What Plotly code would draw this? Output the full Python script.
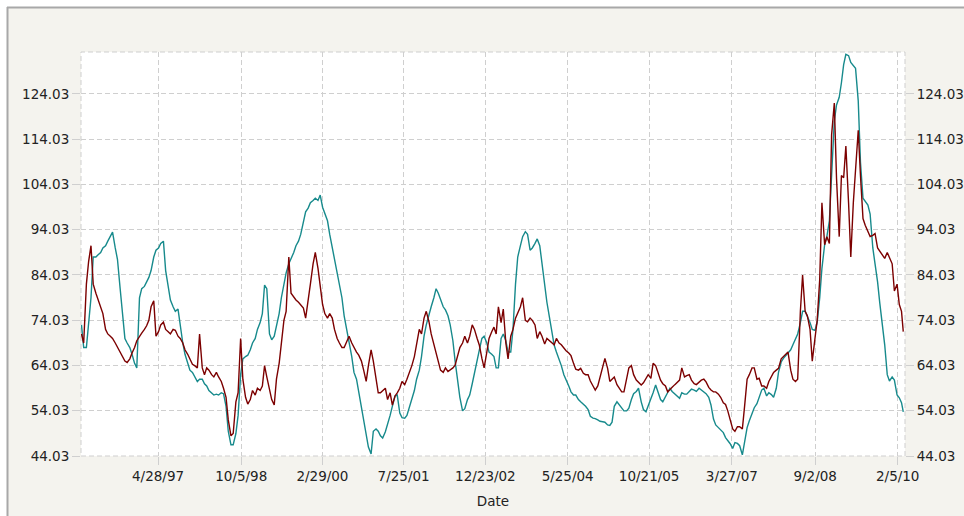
import pandas as pd
import plotly.graph_objects as go

# ---------------- data (semi-monthly readings) ----------------
dates = list(pd.date_range("1996-01-01", "2010-03-01", freq="SMS")) + [pd.Timestamp("2010-03-12")]

teal_values = [
    73, 68, 68, 73, 79, 88, 88, 88.5, 89, 90, 90.5, 91.5, 92.5, 93.5, 90, 87.5, 81, 75, 70, 69, 68, 66.5, 64.5, 63.5,  # 1996
    79, 81, 81.5, 82.5, 83.5, 85, 88, 89.5, 90, 91, 91.5, 85, 81, 78.5, 77, 76, 76.5, 72.5, 69, 66.5, 64.5, 63, 62.5, 61.5,  # 1997
    60.5, 61, 61, 60, 59.5, 58.5, 58, 57.5, 57.7, 57.5, 58, 57.8, 55, 49.5, 46.5, 46.5, 49, 53, 62, 65.5, 66, 66.3, 67.5, 69,  # 1998
    70, 72, 73.5, 75.5, 81.8, 81, 71, 69.7, 70.5, 72.5, 75.5, 79, 82, 84.5, 86.5, 87.5, 89, 90.5, 91.5, 93, 96, 98, 98.8, 100,  # 1999
    100.5, 101, 100.5, 101.7, 99, 97.5, 96, 93, 90, 87.5, 84.5, 81.5, 79, 75, 72, 69.5, 66, 62.5, 61, 58.2, 55, 52.5, 49.5, 46,  # 2000
    44.5, 49.5, 50, 49.5, 48.5, 48, 49.4, 51, 53, 55, 57.3, 57.5, 53.5, 52.5, 52.4, 53, 55, 57, 58.5, 61, 63, 66, 70.5, 73,  # 2001
    75.5, 77, 79, 81, 80, 78.5, 77, 76.3, 75, 73, 69.5, 65, 60.5, 57, 54, 54.5, 56.5, 57.5, 60, 62.5, 65, 67.5, 70, 70.5,  # 2002
    69, 67, 66.5, 66, 63.5, 63.5, 70, 71, 69.5, 67, 67, 72, 82, 88, 90.5, 92.5, 93.6, 93, 89.5, 90, 91, 92, 90.5, 86.5,  # 2003
    82.5, 78, 74.5, 72, 68.5, 67, 65.5, 64, 62, 61, 59.5, 58.2, 57.5, 57.5, 56.5, 56, 55.5, 55, 54.3, 52.8, 52.4, 52.3, 52, 51.7,  # 2004
    51.6, 51.5, 50.9, 50.8, 51.5, 55, 56, 55.3, 54.6, 54, 54, 54.6, 56.5, 57.8, 58.3, 59, 56, 54.3, 53.8, 55, 56.5, 58, 59.7, 58,  # 2005
    56.5, 56, 57.2, 58.3, 59, 58.3, 57.7, 57.2, 56.8, 58, 57.7, 57.7, 58.2, 58.8, 58.6, 58.3, 59, 58.6, 58.3, 57.8, 57, 55.3, 52.2, 50.9,  # 2006
    50.3, 49.8, 49.2, 48.1, 47.5, 46.8, 45.7, 47, 46.8, 46.3, 44.3, 47.5, 50.3, 51.8, 53.6, 54.7, 55.6, 56.8, 58.6, 59, 57.3, 58, 57.6, 57,  # 2007
    59, 62.5, 64.8, 65.6, 66.2, 66.8, 67.5, 68.6, 69.7, 71, 73.5, 76, 76, 75, 73.5, 72, 71.8, 73.5, 79, 85.5, 90.7, 92.5, 96, 106,  # 2008
    118, 121.6, 123.3, 126.5, 130.5, 132.8, 132.5, 131, 130.2, 129.7, 122.5, 109, 101, 100.4, 99.5, 97.5, 90, 86.5, 82.5, 77.8, 72.5, 68.6, 62, 60.6,  # 2009
    61.5, 60.8, 57.5, 56.9, 55.8, 53.8,  # 2010
]

red_values = [
    71, 69, 82, 87, 90.5, 82, 80, 78.5, 76.5, 75.5, 72, 71, 70.5, 70, 69, 68, 67, 66, 65, 64.7, 65.5, 66.8, 68, 69.5,  # 1996
    70.5, 71.2, 72, 72.8, 74, 77, 78.3, 70.5, 71.5, 73, 73.6, 72, 71.5, 71, 72, 71.8, 70.5, 70, 69, 67.5, 66.5, 65.5, 64.3, 64,  # 1997
    63.5, 71, 63.5, 62, 63.5, 63, 62, 61.5, 62.5, 61.5, 60.5, 59, 57, 52, 48.5, 49, 56, 58, 70, 61, 57, 55.5, 56.5, 58.5,  # 1998
    57.5, 59, 58.5, 59.5, 64, 61.5, 59, 56.5, 55.3, 61, 64.5, 69, 74, 76, 88, 80, 79, 78.5, 78, 77.5, 76.7, 74.5, 78, 82,  # 1999
    86.5, 89, 85.5, 81.5, 77.5, 75.5, 74.5, 75.5, 74.5, 72, 70, 69, 68, 68, 69.5, 70.5, 69, 68, 67, 66.3, 65, 63, 60.5, 64,  # 2000
    67.5, 65, 61, 58, 58, 58.5, 59, 56.5, 58, 55.3, 57.3, 58, 59, 60.5, 59.8, 61, 62.5, 64, 66, 68.5, 72, 71, 74.5, 76,  # 2001
    73.7, 71, 68.5, 66.5, 64.5, 63, 62.5, 63.5, 62.7, 63, 63.5, 64.1, 66, 68, 69, 70.5, 69, 70.5, 73, 72, 70, 68.5, 65.6, 63.5,  # 2002
    67, 70, 71.5, 72.5, 71, 77, 73.5, 76.5, 69, 65.5, 70.5, 72, 74.5, 75.5, 77, 79, 74, 73.7, 74.5, 74, 73, 70, 71.5, 70.5,  # 2003
    68.8, 70, 69.5, 69, 68.6, 70, 69, 68.6, 67.8, 67.3, 66.8, 66.2, 64.5, 63.2, 63, 63.4, 62.3, 62, 62, 60.6, 59.5, 58.6, 59.5, 61.5,  # 2004
    63.4, 65.6, 63.4, 60.5, 61, 61.5, 59.8, 59, 58.2, 58.2, 61.5, 63.5, 64, 62, 60.8, 60.2, 59.7, 60.2, 61.2, 62, 61.2, 64.5, 64, 62.5,  # 2005
    60.8, 60, 59.5, 58.2, 58.8, 59.2, 59.8, 60.3, 60.8, 63.5, 61.5, 61.8, 62, 60.8, 60, 59.8, 60.3, 60.8, 61, 60.4, 59.2, 58.6, 58.2, 58.2,  # 2006
    57.7, 57, 55.8, 55.4, 54, 52, 50, 49.5, 50.5, 50.5, 50, 55, 61, 62, 63.5, 63.5, 61, 61.2, 59.5, 59.5, 59, 60.5, 61.5, 62.5,  # 2007
    63, 63.4, 65.5, 66, 66.5, 67, 63, 61, 60.5, 61, 76, 84, 76, 75, 72, 65, 70, 74, 83, 100, 90.7, 92.5, 91, 115,  # 2008
    122, 105.4, 92.5, 106, 105.5, 112.5, 100, 88, 100, 108, 116, 106, 96.5, 95, 93.6, 92.5, 92.8, 93.2, 90, 89.2, 88.5, 87.7, 89, 88,  # 2009
    86.5, 80.5, 82, 77.5, 76, 71.5,  # 2010
]

y_tick_values = [44.03, 54.03, 64.03, 74.03, 84.03, 94.03, 104.03, 114.03, 124.03]
y_tick_labels = ["%.2f" % v for v in y_tick_values]
x_tick_dates = ["1997-04-28", "1998-10-05", "2000-02-29", "2001-07-25", "2002-12-23",
                "2004-05-25", "2005-10-21", "2007-03-27", "2008-09-02", "2010-02-05"]
x_tick_labels = ["4/28/97", "10/5/98", "2/29/00", "7/25/01", "12/23/02",
                 "5/25/04", "10/21/05", "3/27/07", "9/2/08", "2/5/10"]

# ---------------- styling ----------------
W, H = 964, 516
ML, MR, MT, MB = 81, 59, 52, 60
PW, PH = W - ML - MR, H - MT - MB
BEIGE = "#f4f3ee"
GRID = "#cfcfcf"
FONT = dict(family="DejaVu Sans", size=13.5, color="#222222")
Y_RANGE = [44.03, 133.3]


def px_x(px):
    return (px - ML) / PW


def px_y(py):
    return (H - MB - py) / PH


fig = go.Figure()
fig.add_trace(go.Scatter(x=dates, y=teal_values, mode="lines",
                         line=dict(color="#178a8c", width=1.4), name="Series 1"))
fig.add_trace(go.Scatter(x=dates, y=red_values, mode="lines",
                         line=dict(color="#7c0000", width=1.4), name="Series 2"))
# invisible trace so that the right-hand value axis is drawn
fig.add_trace(go.Scatter(x=dates, y=red_values, mode="lines", yaxis="y2",
                         line=dict(width=0), opacity=0, hoverinfo="skip", showlegend=False))

axis_common = dict(showgrid=True, gridcolor=GRID, griddash="5px,3px", gridwidth=1,
                   ticks="outside", ticklen=8, tickcolor=GRID, tickfont=FONT,
                   zeroline=False, showline=False)

fig.update_layout(
    width=W, height=H,
    margin=dict(l=ML, r=MR, t=MT, b=MB, autoexpand=False),
    paper_bgcolor=BEIGE, plot_bgcolor="white",
    showlegend=False,
    font=FONT,
    xaxis=dict(type="date", range=["1995-12-29", "2010-03-23"],
               tickmode="array", tickvals=x_tick_dates, ticktext=x_tick_labels,
               title=dict(text="Date", font=FONT, standoff=13), **axis_common),
    yaxis=dict(range=Y_RANGE, tickmode="array", tickvals=y_tick_values,
               ticktext=y_tick_labels, **axis_common),
    yaxis2=dict(range=Y_RANGE, tickmode="array", tickvals=y_tick_values,
                ticktext=y_tick_labels, overlaying="y", side="right",
                showgrid=False, ticks="outside", ticklen=8, tickcolor=GRID,
                tickfont=FONT, zeroline=False, showline=False),
    shapes=[
        # white strips outside the beige panel
        dict(type="rect", xref="paper", yref="paper", x0=px_x(-10), x1=px_x(W + 10),
             y0=px_y(7), y1=px_y(-10), fillcolor="white", line=dict(width=0), layer="below"),
        dict(type="rect", xref="paper", yref="paper", x0=px_x(-10), x1=px_x(7),
             y0=px_y(H + 10), y1=px_y(-10), fillcolor="white", line=dict(width=0), layer="below"),
        # grey panel border (top and left)
        dict(type="line", xref="paper", yref="paper", x0=px_x(7), x1=px_x(W + 10),
             y0=px_y(7.5), y1=px_y(7.5), line=dict(color="#a8a8a8", width=2), layer="below"),
        dict(type="line", xref="paper", yref="paper", x0=px_x(7.5), x1=px_x(7.5),
             y0=px_y(7), y1=px_y(H + 10), line=dict(color="#a8a8a8", width=2), layer="below"),
        # dashed plot frame
        dict(type="rect", xref="paper", yref="paper", x0=0, x1=1, y0=0, y1=1,
             line=dict(color=GRID, width=1, dash="5px,3px"), layer="below"),
    ],
)

fig.write_html("out.html", config={"displayModeBar": False},
               post_script="document.body.style.margin='0';")
